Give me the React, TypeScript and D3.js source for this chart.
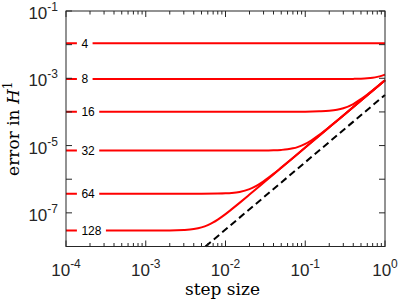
import * as d3 from "d3";

// error in H^1 vs step size, one curve per resolution N
const labelsN = ["4", "8", "16", "32", "64", "128"];

const err4: [number, number][] = [[1e-4, 1.1e-2], [1, 1.1e-2]];
const err8: [number, number][] = [
  [1e-4, 9.5e-4], [0.2, 9.5e-4], [0.3, 9.53e-4], [0.4, 9.6e-4], [0.5, 9.74e-4],
  [0.6, 1.0e-3], [0.7, 1.04e-3], [0.8, 1.1e-3], [0.9, 1.18e-3], [1, 1.29e-3],
];
const err16: [number, number][] = [
  [1e-4, 1.02e-4], [0.1, 1.02e-4], [0.15, 1.04e-4], [0.2, 1.08e-4], [0.25, 1.16e-4],
  [0.3, 1.29e-4], [0.4, 1.72e-4], [0.5, 2.41e-4], [0.6, 3.29e-4], [0.7, 4.38e-4],
  [0.8, 5.66e-4], [1, 8.76e-4],
];
const err32: [number, number][] = [
  [1e-4, 7.1e-6], [0.03, 7.1e-6], [0.04, 7.2e-6], [0.05, 7.43e-6], [0.06, 7.76e-6],
  [0.07, 8.28e-6], [0.08, 9.02e-6], [0.1, 1.12e-5], [0.12, 1.44e-5], [0.15, 2.08e-5],
  [0.2, 3.55e-5], [0.25, 5.49e-5], [0.3, 7.86e-5], [0.5, 2.18e-4], [1, 8.7e-4],
];
const err64: [number, number][] = [
  [1e-4, 3.7e-7], [0.005, 3.7e-7], [0.008, 3.74e-7], [0.01, 3.8e-7], [0.012, 3.91e-7],
  [0.015, 4.19e-7], [0.02, 5.08e-7], [0.025, 6.58e-7], [0.03, 8.66e-7], [0.04, 1.44e-6],
  [0.05, 2.21e-6], [0.07, 4.28e-6], [0.1, 8.71e-6], [0.2, 3.48e-5], [0.5, 2.18e-4],
  [1, 8.7e-4],
];
const err128: [number, number][] = [
  [1e-4, 3.0e-8], [0.002, 3.0e-8], [0.003, 3.1e-8], [0.004, 3.31e-8], [0.005, 3.71e-8],
  [0.006, 4.34e-8], [0.007, 5.21e-8], [0.008, 6.33e-8], [0.01, 9.2e-8], [0.012, 1.29e-7],
  [0.015, 1.98e-7], [0.02, 3.49e-7], [0.03, 7.83e-7], [0.05, 2.18e-6], [0.1, 8.7e-6],
  [0.2, 3.48e-5], [0.5, 2.18e-4], [1, 8.7e-4],
];
const allSeries = [err4, err8, err16, err32, err64, err128];

// reference slope line (order 2)
const refLine: [number, number][] = [[0.0056, 1e-8], [1, 3.2e-4]];

const xTickExps = [-4, -3, -2, -1, 0];
const yTickExps = [-8, -7, -6, -5, -4, -3, -2, -1];
const yLabelExps = [-7, -5, -3, -1];
const labelH = 1.56e-4;

export default function App() {
  const width = 399;
  const height = 302;
  const left = 66, right = 385, top = 11, bottom = 246.5;

  const x = d3.scaleLog([1e-4, 1], [left, right]);
  const y = d3.scaleLog([1e-8, 1e-1], [bottom, top]);
  const line = d3
    .line<[number, number]>((d) => x(d[0]), (d) => y(d[1]))
    .curve(d3.curveMonotoneX);

  const minorX: number[] = [];
  xTickExps.slice(0, -1).forEach((e) => {
    for (let k = 2; k <= 9; k++) minorX.push(k * Math.pow(10, e));
  });

  const axisColor = "#262626";
  const sans = "'Liberation Sans', Arial, sans-serif";
  const serif = "'DejaVu Serif', serif";

  return (
    <svg
      width={width}
      height={height}
      style={{ position: "absolute", left: 0, top: 0, background: "white" }}
    >
      {/* curves */}
      <g fill="none" stroke="#ff0000" strokeWidth={2}>
        {allSeries.map((s, i) => (
          <path key={i} d={line(s) ?? ""} />
        ))}
      </g>
      <path
        d={line(refLine) ?? ""}
        fill="none"
        stroke="#000"
        strokeWidth={2}
        strokeDasharray="7,4"
      />

      {/* curve labels with white boxes */}
      {allSeries.map((s, i) => {
        const w = labelsN[i].length * 6.67;
        const cy = y(s[0][1]);
        return (
          <g key={i}>
            <rect x={x(labelH) - 4.5} y={cy - 6} width={w + 9} height={12} fill="white" />
            <text
              x={x(labelH)}
              y={cy}
              dy="0.36em"
              fontFamily={sans}
              fontSize={12}
              fill="#000"
            >
              {labelsN[i]}
            </text>
          </g>
        );
      })}

      {/* frame and ticks */}
      <g stroke={axisColor} strokeWidth={1} fill="none">
        <rect x={left} y={top} width={right - left} height={bottom - top} />
        {xTickExps.map((e) => {
          const px = x(Math.pow(10, e));
          return (
            <g key={e}>
              <line x1={px} x2={px} y1={bottom} y2={bottom - 6} />
              <line x1={px} x2={px} y1={top} y2={top + 6} />
            </g>
          );
        })}
        {minorX.map((v, i) => {
          const px = x(v);
          return (
            <g key={i}>
              <line x1={px} x2={px} y1={bottom} y2={bottom - 3.5} />
              <line x1={px} x2={px} y1={top} y2={top + 3.5} />
            </g>
          );
        })}
        {yTickExps.map((e) => {
          const py = y(Math.pow(10, e));
          return (
            <g key={e}>
              <line x1={left} x2={left + 6} y1={py} y2={py} />
              <line x1={right} x2={right - 6} y1={py} y2={py} />
            </g>
          );
        })}
      </g>

      {/* x tick labels */}
      {xTickExps.map((e) => (
        <text
          key={e}
          x={x(Math.pow(10, e))}
          y={276}
          textAnchor="middle"
          fontFamily={sans}
          fontSize={17}
          fill={axisColor}
        >
          10
          <tspan fontSize={12} dy={-8}>
            {e}
          </tspan>
        </text>
      ))}

      {/* y tick labels */}
      {yLabelExps.map((e) => (
        <text
          key={e}
          x={58}
          y={y(Math.pow(10, e)) + 8}
          textAnchor="end"
          fontFamily={sans}
          fontSize={17}
          fill={axisColor}
        >
          10
          <tspan fontSize={12} dy={-8}>
            {e}
          </tspan>
        </text>
      ))}

      {/* axis titles */}
      <text
        x={(left + right) / 2 - 3}
        y={295}
        textAnchor="middle"
        fontFamily={serif}
        fontSize={17}
        fill="#000"
      >
        step size
      </text>
      <text
        transform={`translate(18.5,${(top + bottom) / 2}) rotate(-90)`}
        textAnchor="middle"
        fontFamily={serif}
        fontSize={17}
        fill="#000"
      >
        error in <tspan fontStyle="italic">H</tspan>
        <tspan fontSize={12} dy={-7}>
          1
        </tspan>
      </text>
    </svg>
  );
}
